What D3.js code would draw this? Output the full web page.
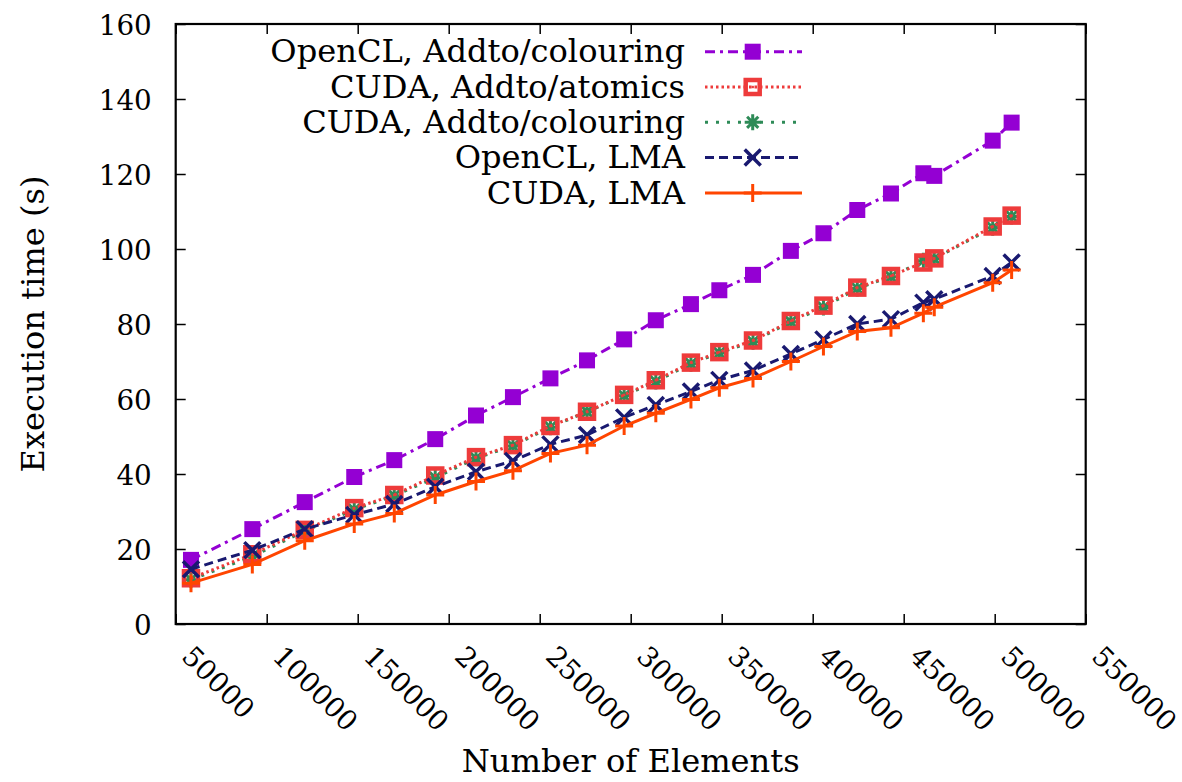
<!DOCTYPE html>
<html>
<head>
<meta charset="utf-8">
<script src="https://cdn.jsdelivr.net/npm/d3@7"></script>
<style>
  body { margin: 0; background: #fff; }
</style>
</head>
<body>
<svg id="drawing_region"></svg>
<script>
// number of elements (x) and execution times (s)
const elements = [58400, 92100, 120900, 148100, 170100, 192600, 215000, 235300, 255900, 276000, 296400, 313800,
                  333100, 348700, 367200, 388000, 405900, 424500, 443000, 460800, 466800, 498900, 509300];
const openclColouring = [17.1, 25.3, 32.5, 39.2, 43.7, 49.3, 55.6, 60.5, 65.5, 70.3, 75.9, 81.0,
                         85.3, 89.0, 93.1, 99.5, 104.2, 110.4, 114.8, 120.2, 119.5, 128.9, 133.7];
const cudaAtomics = [12.2, 18.6, 25.1, 30.9, 34.4, 39.6, 44.5, 47.7, 52.8, 56.6, 61.1, 65.0,
                     69.7, 72.5, 75.6, 80.8, 84.9, 89.7, 92.8, 96.4, 97.5, 106.0, 108.9];
const cudaColouring = [11.8, 18.0, 24.8, 30.5, 34.2, 39.0, 44.2, 47.5, 52.5, 56.6, 60.9, 64.7,
                       69.4, 72.3, 75.3, 80.6, 84.4, 89.5, 92.6, 96.9, 97.4, 105.7, 108.7];
const openclLMA = [14.6, 19.7, 25.3, 29.1, 32.0, 36.6, 40.6, 43.5, 47.9, 50.4, 55.1, 58.4,
                   62.0, 65.1, 67.6, 72.0, 75.9, 80.0, 81.3, 85.7, 86.6, 92.8, 96.4];
const cudaLMA = [10.9, 15.9, 22.2, 26.7, 29.5, 34.4, 38.0, 40.9, 45.5, 47.7, 52.8, 56.2,
                 59.9, 63.0, 65.5, 70.0, 74.0, 78.0, 79.0, 82.9, 84.5, 91.0, 94.4];

const xTicks = [50000, 100000, 150000, 200000, 250000, 300000, 350000, 400000, 450000, 500000, 550000];
const yTicks = [0, 20, 40, 60, 80, 100, 120, 140, 160];

const series = [
    { label: "OpenCL, Addto/colouring", values: openclColouring, color: "#9400d3", dash: "10,5,3,5", marker: "fsquare" },
    { label: "CUDA, Addto/atomics", values: cudaAtomics, color: "#ee3b3b", dash: "2.5,3", marker: "osquare" },
    { label: "CUDA, Addto/colouring", values: cudaColouring, color: "#2e8b57", dash: "3,8", marker: "star" },
    { label: "OpenCL, LMA", values: openclLMA, color: "#191970", dash: "9,5", marker: "cross" },
    { label: "CUDA, LMA", values: cudaLMA, color: "#ff4500", dash: null, marker: "plus" }
];

const FONT = '"DejaVu Serif", "Liberation Serif", "Times New Roman", "Noto Serif", serif';

const width = 1182, height = 782;
const margin = { top: 24, right: 96.3, bottom: 158, left: 175.7 };

const svg = d3.select("#drawing_region")
    .attr("width", width)
    .attr("height", height)
    .attr("font-family", FONT);

// size fonts by measuring, so that text widths match the picture whichever serif is found
function fitSize(str, target) {
    const t = svg.append("text").attr("font-family", FONT).style("font-size", "40px").text(str);
    const w = t.node().getComputedTextLength();
    t.remove();
    return 40 * target / w;
}
const textSize = fitSize("Number of Elements", 338);
const digitSize = fitSize("100000", 106);

const x = d3.scaleLinear().domain([50000, 550000]).range([margin.left, width - margin.right]);
const y = d3.scaleLinear().domain([0, 160]).range([height - margin.bottom, margin.top]);

// axes: ticks point inwards, mirrored on top and right
const bottom = svg.append("g")
    .attr("transform", `translate(0,${y(0)})`)
    .call(d3.axisBottom(x).tickValues(xTicks).tickSize(-10).tickFormat(d3.format("d")));
bottom.selectAll("text")
    .attr("y", 0).attr("dy", 0)
    .attr("text-anchor", "start")
    .attr("transform", "translate(4,34) rotate(45)");

svg.append("g")
    .attr("transform", `translate(0,${y(160)})`)
    .call(d3.axisTop(x).tickValues(xTicks).tickSize(-10).tickFormat(""));

const left = svg.append("g")
    .attr("transform", `translate(${x(50000)},0)`)
    .call(d3.axisLeft(y).tickValues(yTicks).tickSize(-10).tickPadding(24));

svg.append("g")
    .attr("transform", `translate(${x(550000)},0)`)
    .call(d3.axisRight(y).tickValues(yTicks).tickSize(-10).tickFormat(""));

svg.selectAll(".domain").remove();
svg.selectAll("g").attr("font-family", FONT);
svg.selectAll(".tick line").attr("stroke", "#000").attr("stroke-width", 1.5);
svg.selectAll(".tick text")
    .attr("fill", "#000")
    .style("font-size", digitSize + "px");
left.selectAll("text").attr("dy", "0.36em");

svg.append("rect")
    .attr("x", x(50000)).attr("y", y(160))
    .attr("width", x(550000) - x(50000)).attr("height", y(0) - y(160))
    .attr("fill", "none").attr("stroke", "#000").attr("stroke-width", 2.2);

// axis titles
svg.append("text")
    .attr("x", (x(50000) + x(550000)) / 2).attr("y", 772)
    .attr("text-anchor", "middle")
    .style("font-size", textSize + "px")
    .text("Number of Elements");

svg.append("text")
    .attr("transform", `translate(44,${(y(0) + y(160)) / 2}) rotate(-90)`)
    .attr("text-anchor", "middle")
    .style("font-size", textSize + "px")
    .text("Execution time (s)");

// markers
function drawMarker(g, type, color) {
    if (type === "fsquare") {
        g.append("rect").attr("x", -8).attr("y", -8).attr("width", 16).attr("height", 16).attr("fill", color);
    } else if (type === "osquare") {
        g.append("rect").attr("x", -7).attr("y", -7).attr("width", 14).attr("height", 14)
            .attr("fill", "none").attr("stroke", color).attr("stroke-width", 4.5);
        g.append("rect").attr("x", -1.2).attr("y", -1.2).attr("width", 2.4).attr("height", 2.4).attr("fill", color);
    } else if (type === "star") {
        const r = 8;
        g.append("path")
            .attr("d", `M${-r},0H${r}M0,${-r}V${r}M${-r * 0.7},${-r * 0.7}L${r * 0.7},${r * 0.7}M${-r * 0.7},${r * 0.7}L${r * 0.7},${-r * 0.7}`)
            .attr("stroke", color).attr("stroke-width", 3).attr("fill", "none");
    } else if (type === "cross") {
        const r = 8;
        g.append("path")
            .attr("d", `M${-r},${-r}L${r},${r}M${-r},${r}L${r},${-r}`)
            .attr("stroke", color).attr("stroke-width", 3.5).attr("fill", "none");
    } else if (type === "plus") {
        const r = 9;
        g.append("path")
            .attr("d", `M${-r},0H${r}M0,${-r}V${r}`)
            .attr("stroke", color).attr("stroke-width", 3).attr("fill", "none");
    }
}

const line = d3.line()
    .x((d, i) => x(elements[i]))
    .y(d => y(d));

// draw order: green under red so the open red squares sit on top
const drawOrder = [0, 2, 1, 3, 4];
drawOrder.forEach(k => {
    const s = series[k];
    const g = svg.append("g");
    g.append("path")
        .attr("d", line(s.values))
        .attr("fill", "none")
        .attr("stroke", s.color)
        .attr("stroke-width", 3)
        .attr("stroke-dasharray", s.dash);
    s.values.forEach((v, i) => {
        const m = g.append("g").attr("transform", `translate(${x(elements[i])},${y(v)})`);
        drawMarker(m, s.marker, s.color);
    });
});

// legend
const legend = svg.append("g");
series.forEach((s, i) => {
    const ly = 51.7 + i * 35.3;
    const row = legend.append("g").attr("transform", `translate(0,${ly})`);
    row.append("text")
        .attr("x", 685).attr("y", 0).attr("dy", "0.33em")
        .attr("text-anchor", "end")
        .style("font-size", textSize + "px")
        .text(s.label);
    row.append("line")
        .attr("x1", 705).attr("x2", 802).attr("y1", 0).attr("y2", 0)
        .attr("stroke", s.color).attr("stroke-width", 3)
        .attr("stroke-dasharray", s.dash);
    const m = row.append("g").attr("transform", "translate(752.7,0)");
    drawMarker(m, s.marker, s.color);
});
</script>
</body>
</html>
